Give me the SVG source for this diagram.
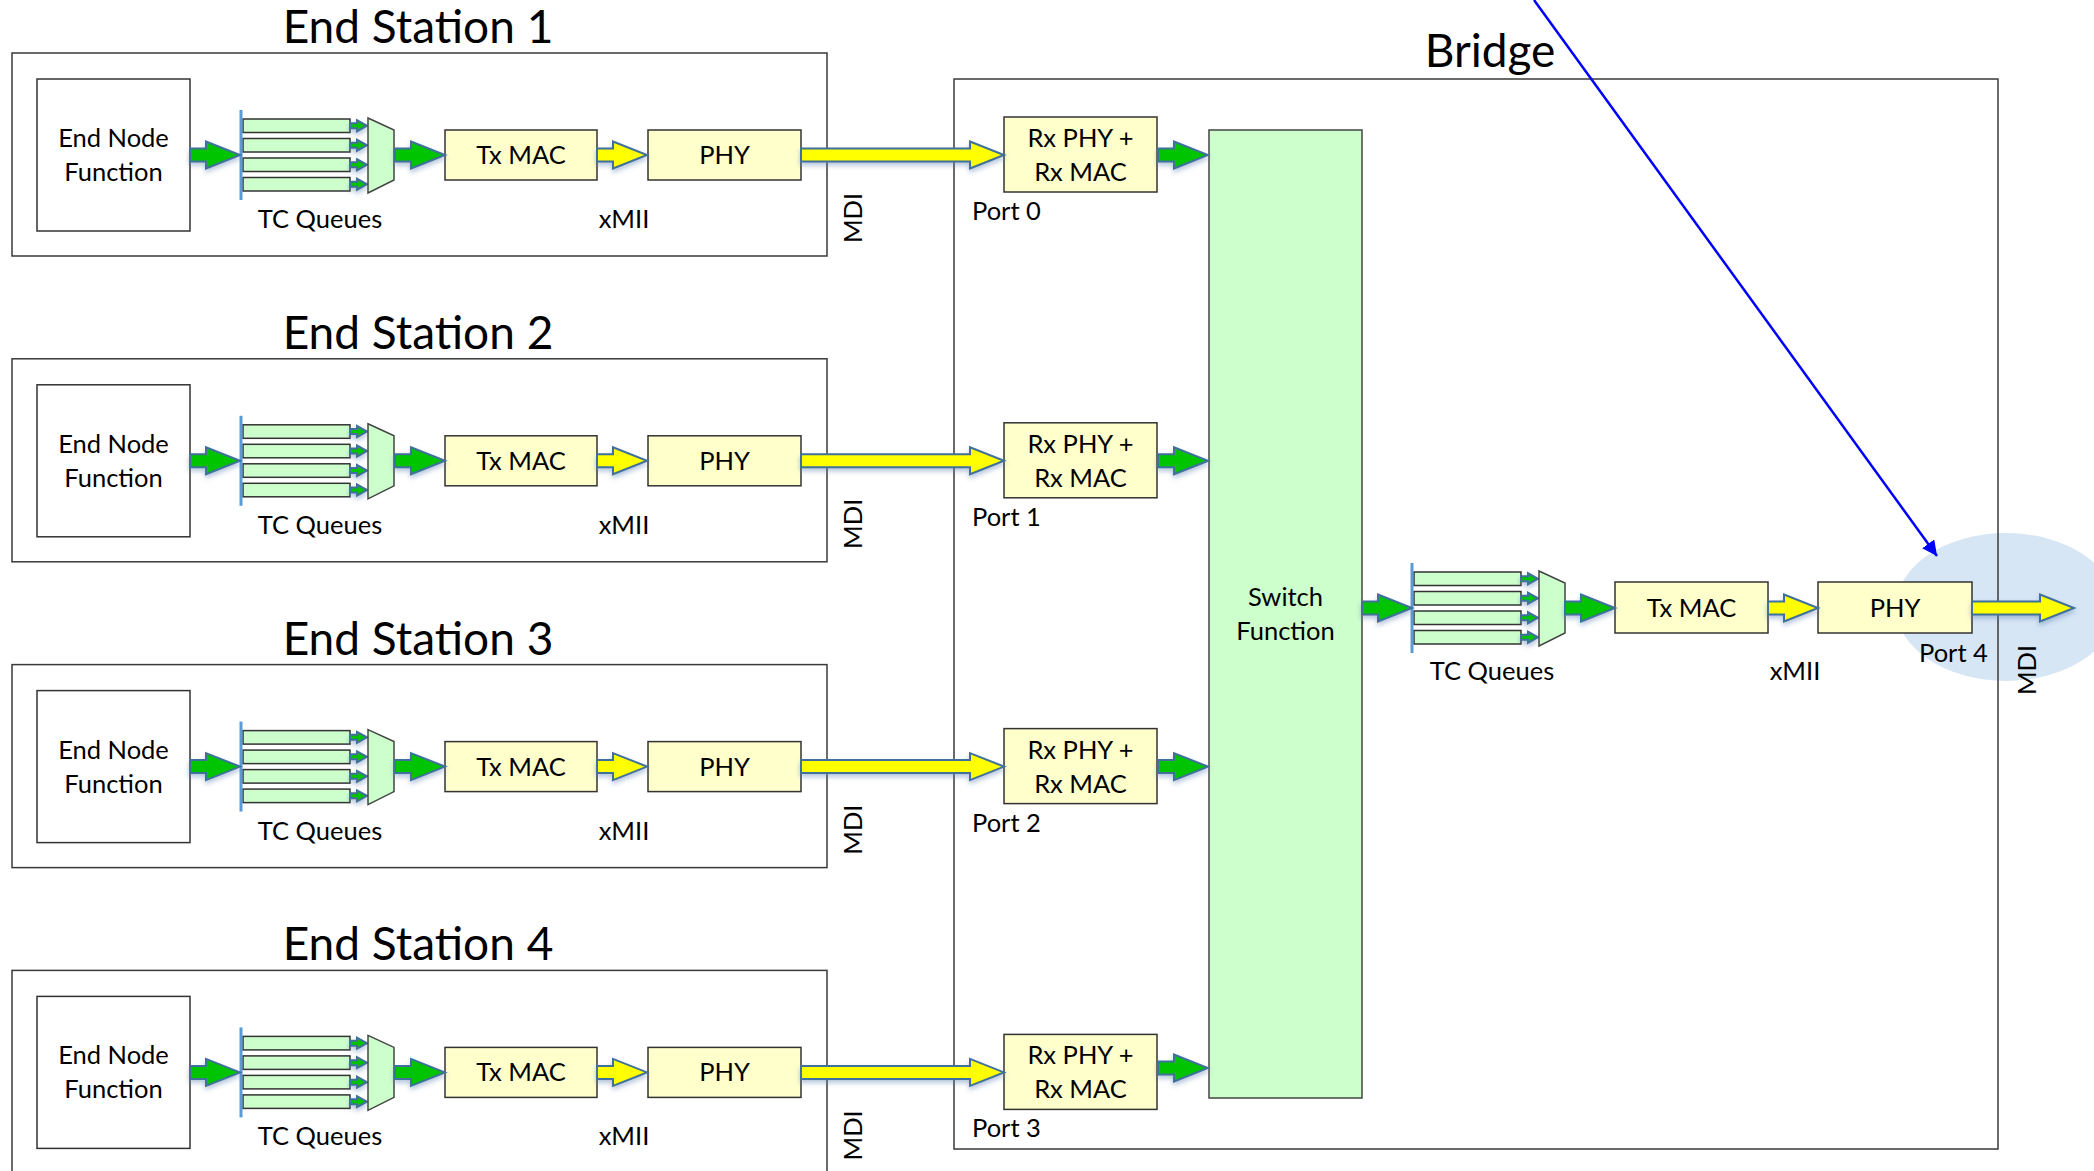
<svg xmlns="http://www.w3.org/2000/svg" xmlns:xlink="http://www.w3.org/1999/xlink" width="2094" height="1171" viewBox="0 0 2094 1171">
<style>
text{font-family:Lato,"Open Sans","Liberation Sans",sans-serif;fill:#000}
.title{font-size:46px;text-anchor:middle}
.lbl{font-size:25.5px;text-anchor:middle}
.st{text-anchor:start}
.frame{fill:none;stroke:#3a3a3a;stroke-width:1.5}
.plain{fill:#fff;stroke:#333;stroke-width:1.5}
.yb{fill:#FFFFCC;stroke:#333;stroke-width:1.5}
.gb{fill:#CCFFCC;stroke:#444;stroke-width:1.5}
.g{fill:#00C400;stroke:#41719C;stroke-width:2;stroke-linejoin:miter}
.y{fill:#FFFF00;stroke:#41719C;stroke-width:2;stroke-linejoin:miter}
.qline{stroke:#5B9BD5;stroke-width:3}
.bar{fill:#CCFFCC;stroke:#333;stroke-width:1.5}
</style>
<defs>
<filter id="sh" x="-20%" y="-60%" width="140%" height="220%">
<feDropShadow dx="0" dy="3" stdDeviation="2.5" flood-color="#5B7FB0" flood-opacity="0.45"/>
</filter>
<marker id="bluehead" viewBox="0 0 10 10" refX="10" refY="5" markerWidth="6" markerHeight="6" orient="auto" markerUnits="strokeWidth">
<path d="M0,0 L10,5 L0,10 Z" fill="#0000FF"/>
</marker>
<path id="a50" d="M0,-6.5 H16 V-13.5 L50,0 L16,13.5 V6.5 H0 Z"/>
<path id="a203" d="M0,-6.5 H169 V-13.5 L203,0 L169,13.5 V6.5 H0 Z"/>
<path id="a102" d="M0,-6.5 H68 V-13.5 L102,0 L68,13.5 V6.5 H0 Z"/>
<path id="a17" d="M0,-2.5 H7 V-5.5 L17,0 L7,5.5 V2.5 H0 Z"/>
<g id="queue">
<rect class="bar" x="2" y="-36" width="107" height="13.5"/>
<rect class="bar" x="2" y="-16.5" width="107" height="13.5"/>
<rect class="bar" x="2" y="3" width="107" height="13.5"/>
<rect class="bar" x="2" y="22.5" width="107" height="13.5"/>
<g filter="url(#sh)">
<use xlink:href="#a17" class="g" x="109" y="-29.25"/>
<use xlink:href="#a17" class="g" x="109" y="-9.75"/>
<use xlink:href="#a17" class="g" x="109" y="9.75"/>
<use xlink:href="#a17" class="g" x="109" y="29.25"/>
</g>
<path class="gb" d="M127,-37 L153,-25 L153,25 L127,38 Z"/>
<line class="qline" x1="0" y1="-45" x2="0" y2="45"/>
</g>
</defs>
<rect width="2094" height="1171" fill="#fff"/>

<!-- highlight ellipse around port 4 -->
<ellipse id="port4-highlight" cx="2006" cy="607" rx="110" ry="74" fill="#D7E6F5"/>

<!-- End stations -->
<g id="es1">
<rect class="frame" x="12" y="53" width="815" height="203"/>
<text class="title" x="418" y="43">End Station 1</text>
<g id="es1-enf"><rect class="plain" x="37" y="79" width="153" height="152"/><text class="lbl" x="113.5" y="147">End Node</text><text class="lbl" x="113.5" y="181">Function</text></g>
<g id="es1-queues"><use xlink:href="#queue" x="241" y="155"/><text class="lbl" x="320" y="228">TC Queues</text></g>
<g id="es1-txmac"><rect class="yb" x="445" y="130" width="152" height="50"/><text class="lbl" x="521" y="164">Tx MAC</text></g>
<g id="es1-phy"><rect class="yb" x="648" y="130" width="153" height="50"/><text class="lbl" x="724.5" y="164">PHY</text></g>
<text class="lbl" x="624" y="228">xMII</text>
<text class="lbl" transform="translate(862,218) rotate(-90)">MDI</text>
</g>

<g id="es2" transform="translate(0,305.8)">
<rect class="frame" x="12" y="53" width="815" height="203"/>
<text class="title" x="418" y="43">End Station 2</text>
<g id="es2-enf"><rect class="plain" x="37" y="79" width="153" height="152"/><text class="lbl" x="113.5" y="147">End Node</text><text class="lbl" x="113.5" y="181">Function</text></g>
<g id="es2-queues"><use xlink:href="#queue" x="241" y="155"/><text class="lbl" x="320" y="228">TC Queues</text></g>
<g id="es2-txmac"><rect class="yb" x="445" y="130" width="152" height="50"/><text class="lbl" x="521" y="164">Tx MAC</text></g>
<g id="es2-phy"><rect class="yb" x="648" y="130" width="153" height="50"/><text class="lbl" x="724.5" y="164">PHY</text></g>
<text class="lbl" x="624" y="228">xMII</text>
<text class="lbl" transform="translate(862,218) rotate(-90)">MDI</text>
</g>

<g id="es3" transform="translate(0,611.6)">
<rect class="frame" x="12" y="53" width="815" height="203"/>
<text class="title" x="418" y="43">End Station 3</text>
<g id="es3-enf"><rect class="plain" x="37" y="79" width="153" height="152"/><text class="lbl" x="113.5" y="147">End Node</text><text class="lbl" x="113.5" y="181">Function</text></g>
<g id="es3-queues"><use xlink:href="#queue" x="241" y="155"/><text class="lbl" x="320" y="228">TC Queues</text></g>
<g id="es3-txmac"><rect class="yb" x="445" y="130" width="152" height="50"/><text class="lbl" x="521" y="164">Tx MAC</text></g>
<g id="es3-phy"><rect class="yb" x="648" y="130" width="153" height="50"/><text class="lbl" x="724.5" y="164">PHY</text></g>
<text class="lbl" x="624" y="228">xMII</text>
<text class="lbl" transform="translate(862,218) rotate(-90)">MDI</text>
</g>

<g id="es4" transform="translate(0,917.4)">
<rect class="frame" x="12" y="53" width="815" height="203"/>
<text class="title" x="418" y="43">End Station 4</text>
<g id="es4-enf"><rect class="plain" x="37" y="79" width="153" height="152"/><text class="lbl" x="113.5" y="147">End Node</text><text class="lbl" x="113.5" y="181">Function</text></g>
<g id="es4-queues"><use xlink:href="#queue" x="241" y="155"/><text class="lbl" x="320" y="228">TC Queues</text></g>
<g id="es4-txmac"><rect class="yb" x="445" y="130" width="152" height="50"/><text class="lbl" x="521" y="164">Tx MAC</text></g>
<g id="es4-phy"><rect class="yb" x="648" y="130" width="153" height="50"/><text class="lbl" x="724.5" y="164">PHY</text></g>
<text class="lbl" x="624" y="228">xMII</text>
<text class="lbl" transform="translate(862,218) rotate(-90)">MDI</text>
</g>

<!-- Bridge -->
<g id="bridge">
<rect class="frame" x="954" y="79" width="1044" height="1070"/>
<text class="title" x="1490" y="67">Bridge</text>
</g>
<g id="rx0"><rect class="yb" x="1004" y="117" width="153" height="75"/><text class="lbl" x="1080.5" y="147">Rx PHY +</text><text class="lbl" x="1080.5" y="181">Rx MAC</text><text class="lbl st" x="972" y="220">Port 0</text></g>
<g id="rx1" transform="translate(0,305.8)"><rect class="yb" x="1004" y="117" width="153" height="75"/><text class="lbl" x="1080.5" y="147">Rx PHY +</text><text class="lbl" x="1080.5" y="181">Rx MAC</text><text class="lbl st" x="972" y="220">Port 1</text></g>
<g id="rx2" transform="translate(0,611.6)"><rect class="yb" x="1004" y="117" width="153" height="75"/><text class="lbl" x="1080.5" y="147">Rx PHY +</text><text class="lbl" x="1080.5" y="181">Rx MAC</text><text class="lbl st" x="972" y="220">Port 2</text></g>
<g id="rx3" transform="translate(0,917.4)"><rect class="yb" x="1004" y="117" width="153" height="75"/><text class="lbl" x="1080.5" y="147">Rx PHY +</text><text class="lbl" x="1080.5" y="181">Rx MAC</text><text class="lbl st" x="972" y="220">Port 3</text></g>

<g id="switch"><rect class="gb" x="1209" y="130" width="153" height="968"/><text class="lbl" x="1285.5" y="606">Switch</text><text class="lbl" x="1285.5" y="640">Function</text></g>

<g id="p4-queues"><use xlink:href="#queue" x="1412" y="608"/><text class="lbl" x="1492" y="680">TC Queues</text></g>
<g id="p4-txmac"><rect class="yb" x="1615" y="582" width="153" height="51"/><text class="lbl" x="1691.5" y="617">Tx MAC</text></g>
<g id="p4-phy"><rect class="yb" x="1818" y="582" width="154" height="51"/><text class="lbl" x="1895" y="617">PHY</text></g>
<g id="p4-labels">
<text class="lbl" x="1795" y="680">xMII</text>
<text class="lbl st" x="1919" y="662">Port 4</text>
<text class="lbl" transform="translate(2036,670) rotate(-90)">MDI</text>
</g>

<!-- Connectors -->
<g id="connectors">
<g filter="url(#sh)">
<use xlink:href="#a50" class="g" x="190" y="155"/>
<use xlink:href="#a50" class="g" x="395" y="155"/>
<use xlink:href="#a50" class="y" x="597" y="155"/>
<use xlink:href="#a203" class="y" x="801" y="155"/>
<use xlink:href="#a50" class="g" x="1158" y="155"/>

<use xlink:href="#a50" class="g" x="190" y="460.8"/>
<use xlink:href="#a50" class="g" x="395" y="460.8"/>
<use xlink:href="#a50" class="y" x="597" y="460.8"/>
<use xlink:href="#a203" class="y" x="801" y="460.8"/>
<use xlink:href="#a50" class="g" x="1158" y="460.8"/>

<use xlink:href="#a50" class="g" x="190" y="766.6"/>
<use xlink:href="#a50" class="g" x="395" y="766.6"/>
<use xlink:href="#a50" class="y" x="597" y="766.6"/>
<use xlink:href="#a203" class="y" x="801" y="766.6"/>
<use xlink:href="#a50" class="g" x="1158" y="766.6"/>

<use xlink:href="#a50" class="g" x="190" y="1072.4"/>
<use xlink:href="#a50" class="g" x="395" y="1072.4"/>
<use xlink:href="#a50" class="y" x="597" y="1072.4"/>
<use xlink:href="#a203" class="y" x="801" y="1072.4"/>
<use xlink:href="#a50" class="g" x="1158" y="1068"/>

<use xlink:href="#a50" class="g" x="1362" y="608"/>
<use xlink:href="#a50" class="g" x="1565" y="608"/>
<use xlink:href="#a50" class="y" x="1768" y="608"/>
<use xlink:href="#a102" class="y" x="1972" y="608"/>
</g>
<line x1="1534" y1="0" x2="1937" y2="556" stroke="#0000FF" stroke-width="2.5" marker-end="url(#bluehead)"/>
</g>
</svg>
